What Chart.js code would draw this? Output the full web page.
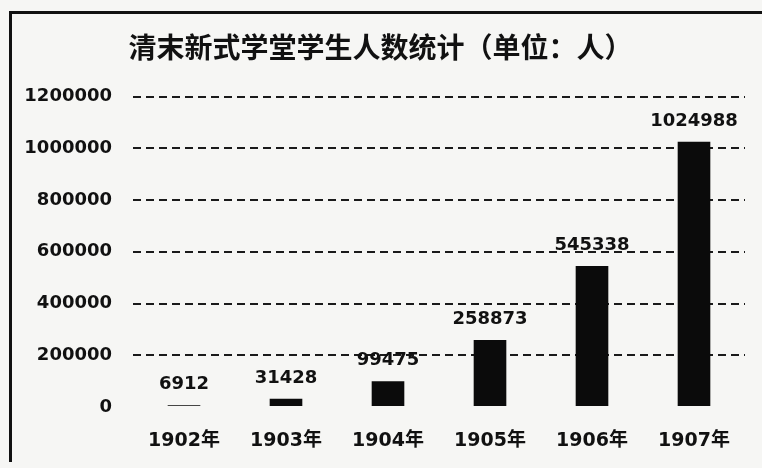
<!DOCTYPE html>
<html>
<head>
<meta charset="utf-8">
<script src="https://cdn.jsdelivr.net/npm/chart.js@4"></script>
<style>
  html, body { margin: 0; padding: 0; background: #f6f6f4; }
  #wrap { position: relative; width: 762px; height: 468px; overflow: hidden; }
  #frame { position: absolute; left: 9px; top: 11px; width: 780px; height: 448px;
           border-left: 3px solid #111; border-top: 3px solid #111; }
  canvas { position: absolute; left: 0; top: 0; }
</style>
</head>
<body>
<div id="wrap">
  <div id="frame"></div>
  <canvas id="c" width="762" height="468"></canvas>
</div>
<script>
const years = ['1902年', '1903年', '1904年', '1905年', '1906年', '1907年'];
const students = [6912, 31428, 99475, 258873, 545338, 1024988];
const yTicks = [0, 200000, 400000, 600000, 800000, 1000000, 1200000];
const titleText = '清末新式学堂学生人数统计（单位：人）';

const cjk = '"Noto Sans CJK SC", sans-serif';
const num = '"DejaVu Sans", "Noto Sans CJK SC", sans-serif';

// numbers above each bar
const valueLabels = {
  id: 'valueLabels',
  afterDatasetsDraw(chart) {
    const { ctx } = chart;
    const meta = chart.getDatasetMeta(0);
    ctx.save();
    ctx.font = 'bold 18px ' + num;
    ctx.fillStyle = '#111';
    ctx.textAlign = 'center';
    ctx.textBaseline = 'middle';
    meta.data.forEach((bar, i) => {
      ctx.fillText(String(students[i]), bar.x, bar.y - 21);
    });
    ctx.restore();
  }
};

// built-in title keeps the space, this one draws it a bit right of centre
const shiftedTitle = {
  id: 'shiftedTitle',
  afterDraw(chart) {
    const tb = chart.titleBlock;
    const { ctx } = chart;
    ctx.save();
    ctx.font = 'bold 28px ' + cjk;
    ctx.fillStyle = '#111';
    ctx.textAlign = 'center';
    ctx.textBaseline = 'middle';
    ctx.fillText(titleText, (tb.left + tb.right) / 2 + 8, tb.top + 30 + 17);
    ctx.restore();
  }
};

new Chart(document.getElementById('c'), {
  type: 'bar',
  data: {
    labels: years,
    datasets: [{
      data: students,
      backgroundColor: '#0b0b0b',
      categoryPercentage: 1,
      barPercentage: 0.32
    }]
  },
  options: {
    responsive: false,
    animation: false,
    layout: { padding: { top: 0, right: 17, bottom: 0, left: 0 } },
    plugins: {
      legend: { display: false },
      tooltip: { enabled: false },
      title: {
        display: true,
        text: titleText,
        color: 'rgba(0,0,0,0)',
        font: { family: cjk, size: 28, weight: 'bold' },
        padding: { top: 30, bottom: 33 }
      }
    },
    scales: {
      x: {
        afterFit: (s) => { s.height = 61; },
        grid: { display: false, drawTicks: false },
        border: { display: false },
        ticks: {
          color: '#111',
          padding: 23,
          font: { family: num, size: 19, weight: 'bold' }
        }
      },
      y: {
        min: 0,
        max: 1200000,
        afterBuildTicks: (s) => { s.ticks = yTicks.map(v => ({ value: v })); },
        afterFit: (s) => { s.width = 133; },
        border: { display: false, dash: [8, 5] },
        grid: {
          color: (c) => (c.tick && c.tick.value === 0 ? 'rgba(0,0,0,0)' : '#1a1a1a'),
          lineWidth: 2,
          drawTicks: false
        },
        ticks: {
          color: '#111',
          padding: 21,
          font: { family: num, size: 18, weight: 'bold' },
          callback: (v) => String(v)
        }
      }
    }
  },
  plugins: [valueLabels, shiftedTitle]
});
</script>
</body>
</html>
